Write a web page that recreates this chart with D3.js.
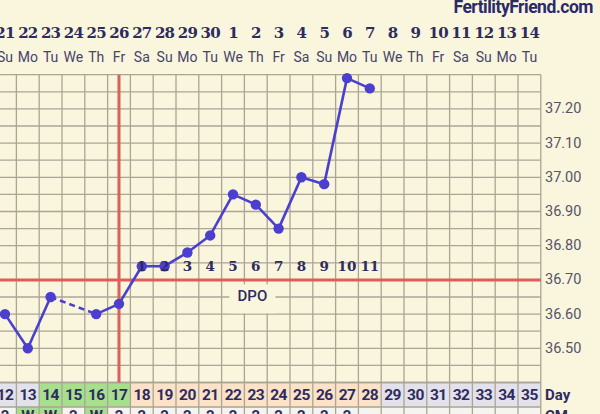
<!DOCTYPE html>
<html><head><meta charset="utf-8">
<script src="https://cdn.jsdelivr.net/npm/d3@7"></script>
<style>
html,body{margin:0;padding:0;background:#faf5dd;}
svg{display:block;}
</style></head>
<body>
<svg id="c" width="600" height="414"></svg>
<script>
// ---- data ----
const cycleDays = d3.range(12, 36); // 12..35
const dateLabels = ["21","22","23","24","25","26","27","28","29","30","1","2","3","4","5","6","7","8","9","10","11","12","13","14"];
const weekdays = ["Su","Mo","Tu","We","Th","Fr","Sa","Su","Mo","Tu","We","Th","Fr","Sa","Su","Mo","Tu","We","Th","Fr","Sa","Su","Mo","Tu"];
const tempDays = [12,13,14,15,16,17,18,19,20,21,22,23,24,25,26,27,28];
const temps =    [36.60,36.50,36.65,null,36.60,36.63,36.74,36.74,36.78,36.83,36.95,36.92,36.85,37.00,36.98,37.29,37.26];
const dpoDays = [18,19,20,21,22,23,24,25,26,27,28];
const dpoLabels = ["1","2","3","4","5","6","7","8","9","10","11"];
const yTicks = [36.50,36.60,36.70,36.80,36.90,37.00,37.10,37.20];
const coverline = 36.70;
const ovulationDay = 17;
const dayPhase = ["n","n","g","g","g","g","p","p","p","p","p","p","p","p","p","p","p","n","n","n","n","n","n","n"]; // per cycle day
const cmLabels = ["2","W","W","2","W","2","2","2","2","2","2","2","2","2","2","2","","","","","","","",""];
const cmGreen = [false,true,true,false,true,false,false,false,false,false,false,false,false,false,false,false,false,false,false,false,false,false,false,false];

// ---- scales ----
const svg = d3.select("#c");
const x = d3.scaleLinear().domain([12, 35]).range([5, 529.4]);
const colW = x(13) - x(12);
const y = d3.scaleLinear().domain([36.40, 37.30]).range([382.5, 74.7]);
const gridTop = y(37.30), gridBot = y(36.40), rightX = x(35.5);
const rowTop = gridBot, rowH = 24.5;

const navy = "#2d2b60", gridC = "#aaa596";

// bottom rows cells
const phaseFill = {n:"#e3e1ea", g:"#a7df8e", p:"#fce2c6"};
svg.append("g").selectAll("rect").data(cycleDays).join("rect")
  .attr("x", d => x(d) - colW/2).attr("y", rowTop).attr("width", colW).attr("height", rowH)
  .attr("fill", (d,i) => phaseFill[dayPhase[i]]);
svg.append("g").selectAll("rect").data(cycleDays).join("rect")
  .attr("x", d => x(d) - colW/2).attr("y", rowTop + rowH).attr("width", colW).attr("height", rowH)
  .attr("fill", (d,i) => cmGreen[i] ? "#a7df8e" : "#f6f4ef");

// grid: horizontal
const hLines = d3.range(0, 19).map(i => 36.40 + i*0.05);
svg.append("g").selectAll("line").data(hLines).join("line")
  .attr("x1", 0).attr("x2", rightX).attr("y1", d => y(d)).attr("y2", d => y(d))
  .attr("stroke", gridC).attr("stroke-width", 1.3);
// row borders
[rowTop, rowTop+rowH].forEach(v => svg.append("line").attr("x1",0).attr("x2",rightX).attr("y1",v).attr("y2",v).attr("stroke",gridC).attr("stroke-width",1.3));
// grid: vertical
const vLines = d3.range(11.5, 36, 1);
svg.append("g").selectAll("line").data(vLines).join("line")
  .attr("x1", d => x(d)).attr("x2", d => x(d)).attr("y1", gridTop).attr("y2", 414)
  .attr("stroke", gridC).attr("stroke-width", 1.3);

// DPO box
const dpoX = x(22) + colW*0.85;
svg.append("rect").attr("x", dpoX - 23).attr("y", y(36.69) + 1).attr("width", 46).attr("height", 29).attr("fill", "#faf5dd");
svg.append("text").attr("x", dpoX).attr("y", y(36.652)).attr("text-anchor","middle").attr("dominant-baseline","central")
  .attr("font-family","Roboto, sans-serif").attr("font-weight",500).attr("font-size",15).attr("fill",navy).text("DPO");

// red lines
const red = "#dc5f5a";
svg.append("line").attr("x1",0).attr("x2",rightX).attr("y1",y(coverline)).attr("y2",y(coverline)).attr("stroke",red).attr("stroke-width",3);
svg.append("line").attr("x1",x(ovulationDay)).attr("x2",x(ovulationDay)).attr("y1",gridTop).attr("y2",rowTop).attr("stroke",red).attr("stroke-width",3);

// temperature line
const pts = tempDays.map((d,i) => ({d, t: temps[i]})).filter(p => p.t !== null);
const segs = [];
for (let i = 1; i < pts.length; i++) segs.push({a: pts[i-1], b: pts[i], gap: pts[i].d - pts[i-1].d > 1});
const lineC = "#4b3fcf";
svg.append("g").selectAll("line").data(segs).join("line")
  .attr("x1", s => x(s.a.d)).attr("y1", s => y(s.a.t)).attr("x2", s => x(s.b.d)).attr("y2", s => y(s.b.t))
  .attr("stroke", lineC).attr("stroke-width", 2.6).attr("stroke-dasharray", s => s.gap ? "6,4" : null);
svg.append("g").selectAll("circle").data(pts).join("circle")
  .attr("cx", p => x(p.d)).attr("cy", p => y(p.t)).attr("r", 5.2).attr("fill", lineC);

// DPO numbers
svg.append("g").selectAll("text").data(dpoDays).join("text")
  .attr("x", d => x(d)).attr("y", y(36.742)).attr("text-anchor","middle").attr("dominant-baseline","central")
  .attr("font-family","'DejaVu Serif', serif").attr("font-weight","bold").attr("font-size",13.5).attr("fill",navy)
  .text((d,i) => dpoLabels[i]);

// y axis labels
svg.append("g").selectAll("text").data(yTicks).join("text")
  .attr("x", 545).attr("y", d => y(d)).attr("dominant-baseline","central")
  .attr("font-family","Roboto, sans-serif").attr("font-size",14.5).attr("fill","#55546a")
  .text(d => d.toFixed(2));

// top dates
svg.append("g").selectAll("text").data(cycleDays).join("text")
  .attr("x", d => x(d)).attr("y", 33).attr("text-anchor","middle").attr("dominant-baseline","central")
  .attr("font-family","'DejaVu Serif', serif").attr("font-weight","bold").attr("font-size",15).attr("letter-spacing",-0.8).attr("fill",navy)
  .text((d,i) => dateLabels[i]);
svg.append("g").selectAll("text").data(cycleDays).join("text")
  .attr("x", d => x(d)).attr("y", 57).attr("text-anchor","middle").attr("dominant-baseline","central")
  .attr("font-family","Roboto, sans-serif").attr("font-size",14).attr("fill","#45446a")
  .text((d,i) => weekdays[i]);

// bottom day numbers
svg.append("g").selectAll("text").data(cycleDays).join("text")
  .attr("x", d => x(d)).attr("y", rowTop + rowH/2).attr("text-anchor","middle").attr("dominant-baseline","central")
  .attr("font-family","Roboto, sans-serif").attr("font-weight","bold").attr("font-size",15.5).attr("letter-spacing",-0.6).attr("fill",navy)
  .text(d => d);
svg.append("g").selectAll("text").data(cycleDays).join("text")
  .attr("x", d => x(d)).attr("y", rowTop + rowH + 14).attr("text-anchor","middle")
  .attr("font-family","Roboto, sans-serif").attr("font-weight","bold").attr("font-size",15).attr("fill",navy)
  .text((d,i) => cmLabels[i]);
svg.append("text").attr("x",545).attr("y",rowTop + rowH/2).attr("dominant-baseline","central")
  .attr("font-family","Roboto, sans-serif").attr("font-weight","bold").attr("font-size",15).attr("fill",navy).text("Day");
svg.append("text").attr("x",545).attr("y",rowTop + rowH + 14)
  .attr("font-family","Roboto, sans-serif").attr("font-weight","bold").attr("font-size",15).attr("fill",navy).text("CM");

// brand
svg.append("text").attr("x",593).attr("y",7).attr("text-anchor","end").attr("dominant-baseline","central")
  .attr("font-family","Roboto, sans-serif").attr("font-weight","bold").attr("font-size",17.5).attr("letter-spacing",-0.5).attr("fill","#2a2a6b")
  .text("FertilityFriend.com");
</script>
</body></html>
